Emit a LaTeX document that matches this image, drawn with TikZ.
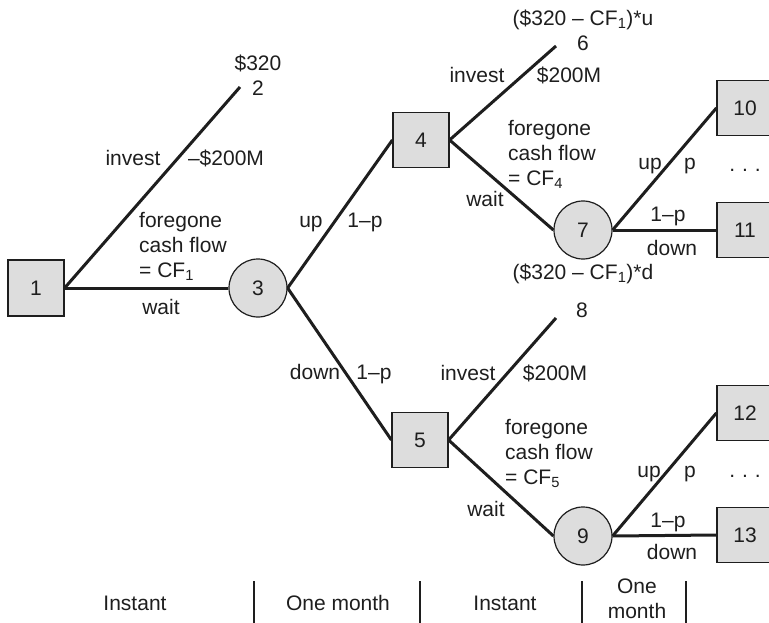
\documentclass[tikz,border=0pt]{standalone}
\usepackage{fontspec}
\setmainfont{Liberation Sans}
\definecolor{nodegray}{RGB}{221,221,221}
\definecolor{ink}{RGB}{30,30,30}
\newcommand\labfont{\fontsize{21}{25}\selectfont}
\tikzset{
  decbox/.style={draw=ink, line width=1.2pt, fill=nodegray, minimum width=56pt, minimum height=56pt, inner sep=0pt, font=\labfont, text=ink},
  chance/.style={circle, draw=ink, line width=1.2pt, fill=nodegray, minimum size=58pt, inner sep=0pt, font=\labfont, text=ink},
  branch/.style={line width=3pt, draw=ink},
  lab/.style={inner sep=0pt, font=\labfont, text=ink, anchor=base},
  blocklab/.style={inner sep=0pt, font=\labfont, text=ink, align=left, anchor=north west},
  stacklab/.style={inner sep=0pt, font=\labfont, text=ink, align=center},
  divider/.style={line width=1.2pt, draw=ink}
}
\begin{document}
\begin{tikzpicture}[x=1pt,y=-1pt]
\useasboundingbox (0,0) rectangle (769,623);
% nodes
\node[decbox] (n1) at (36,288) {1};
\node[chance] (n3) at (258,288) {3};
\node[decbox,minimum height=55pt] (n4) at (421,140) {4};
\node[decbox,minimum height=55pt] (n5) at (420,440) {5};
\node[chance] (n7) at (583,230) {7};
\node[chance] (n9) at (583,536) {9};
\node[decbox,minimum height=55pt] (n10) at (745,108) {10};
\node[decbox,minimum height=55pt] (n11) at (745,230) {11};
\node[decbox,minimum height=55pt] (n12) at (745,413) {12};
\node[decbox,minimum height=55pt] (n13) at (745,535) {13};
\coordinate (e2) at (240,87);
\coordinate (e6) at (556,46);
\coordinate (e8) at (556,318);
% branches
\draw[branch] (n1.east) -- (e2);
\draw[branch] (n1.east) -- (n3.west);
\draw[branch] (n3.east) -- (n4.west);
\draw[branch] (n3.east) -- (n5.west);
\draw[branch] (n4.east) -- (e6);
\draw[branch] (n4.east) -- (n7.west);
\draw[branch] (n7.east) -- (n10.west);
\draw[branch] (n7.east) -- (n11.west);
\draw[branch] (n5.east) -- (e8);
\draw[branch] (n5.east) -- (n9.west);
\draw[branch] (n9.east) -- (n12.west);
\draw[branch] (n9.east) -- (n13.west);
% end values
\node[stacklab] (v2) at (258,75) {\$320\\2};
\node[stacklab] (v6) at (583,30.5) {(\$320 – CF\textsubscript{1})*u\\6};
\node[lab] (v8) at (582,317.5) {8};
\node[lab] (v7) at (583,279) {(\$320 – CF\textsubscript{1})*d};
% stage 1 labels
\node[lab] (l1a) at (133,165.5) {invest};
\node[lab] (l1b) at (226,165.5) {–\$200M};
\node[blocklab] (l1c) at (139,212) {foregone\\cash flow\\= CF\textsubscript{1}};
\node[lab] (l1d) at (161,314) {wait};
% stage 2 labels
\node[lab] (l3a) at (311,227) {up};
\node[lab] (l3b) at (365,227) {1–p};
\node[lab] (l3c) at (315,379) {down};
\node[lab] (l3d) at (374,379) {1–p};
% node 4 labels
\node[lab] (l4a) at (477,83) {invest};
\node[lab] (l4b) at (569,83) {\$200M};
\node[blocklab] (l4c) at (508,120) {foregone\\cash flow\\= CF\textsubscript{4}};
\node[lab] (l4d) at (485,207) {wait};
% node 7 labels
\node[lab] (l7a) at (650,170) {up};
\node[lab] (l7b) at (690,170) {p};
\node[lab] (l7c) at (668,222) {1–p};
\node[lab] (l7d) at (672,255) {down};
\node[lab] (l7e) at (745,172) {.\,\,.\,\,.};
% node 5 labels
\node[lab] (l5a) at (468,380) {invest};
\node[lab] (l5b) at (555,380) {\$200M};
\node[blocklab] (l5c) at (505,419) {foregone\\cash flow\\= CF\textsubscript{5}};
\node[lab] (l5d) at (486,516) {wait};
% node 9 labels
\node[lab] (l9a) at (649,477) {up};
\node[lab] (l9b) at (690,477) {p};
\node[lab] (l9c) at (668,527) {1–p};
\node[lab] (l9d) at (672,559) {down};
\node[lab] (l9e) at (745,477) {.\,\,.\,\,.};
% time axis
\coordinate (d1t) at (254,581); \coordinate (d1b) at (254,623);
\coordinate (d2t) at (420,581); \coordinate (d2b) at (420,623);
\coordinate (d3t) at (582,581); \coordinate (d3b) at (582,623);
\coordinate (d4t) at (686,581); \coordinate (d4b) at (686,623);
\draw[divider] (d1t) -- (d1b);
\draw[divider] (d2t) -- (d2b);
\draw[divider] (d3t) -- (d3b);
\draw[divider] (d4t) -- (d4b);
\node[lab] (t1) at (135,610.5) {Instant};
\node[lab] (t2) at (338,610.5) {One month};
\node[lab] (t3) at (505,610.5) {Instant};
\node[stacklab] (t4) at (637,599) {One\\month};
\end{tikzpicture}
\end{document}
